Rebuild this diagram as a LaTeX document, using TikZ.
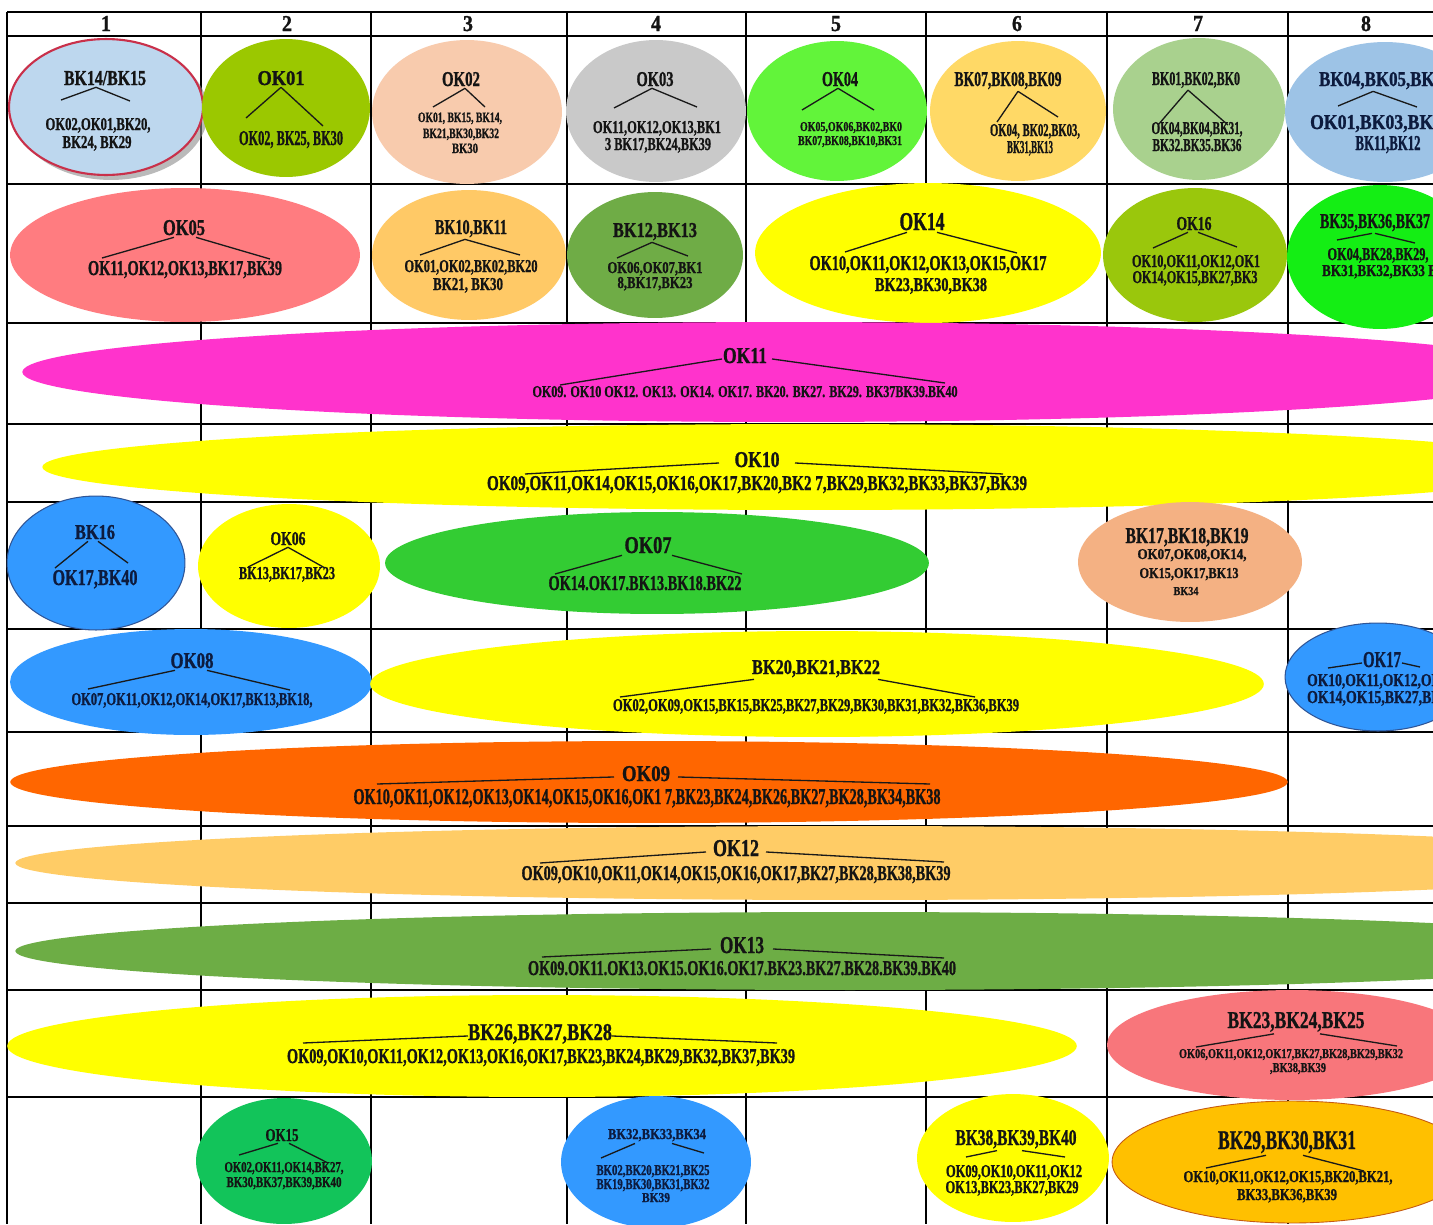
\documentclass[tikz,border=0pt]{standalone}
\usepackage{fontspec}
\setmainfont{Liberation Serif}[BoldFeatures={FakeBold=1.2}]
\usepackage{graphicx}
\usetikzlibrary{shapes.geometric,calc}
\newlength\pxl
\setlength\pxl{0.02cm}
\newcommand\fitt[3]{\resizebox{#1\pxl}{#2\pxl}{\bfseries #3}}
% #1 title node, #2 anchor, #3 dx left, #4 #5 left end, #6 dx right, #7 #8 right end
\newcommand\connx[8]{%
  \coordinate (#1-L) at (#4,#5);
  \coordinate (#1-R) at (#7,#8);
  \draw[branch] ($(#1.#2)+(#3,0)$) -- (#1-L);
  \draw[branch] ($(#1.#2)+(#6,0)$) -- (#1-R);}
\definecolor{txt}{HTML}{141414}
\definecolor{txtb}{HTML}{0D1B3E}
\definecolor{cA}{HTML}{BDD7EE}
\definecolor{cArim}{HTML}{C9304A}
\definecolor{cOK01}{HTML}{9BC800}
\definecolor{cOK02}{HTML}{F8CBAD}
\definecolor{cOK03}{HTML}{C9C9C9}
\definecolor{cOK04}{HTML}{62F43A}
\definecolor{cBK07}{HTML}{FFD966}
\definecolor{cBK01}{HTML}{A9D18E}
\definecolor{cBK04}{HTML}{9DC3E6}
\definecolor{cOK05}{HTML}{FF7C80}
\definecolor{cBK10}{HTML}{FFC966}
\definecolor{cBK12}{HTML}{6FAC46}
\definecolor{cYel}{HTML}{FFFF00}
\definecolor{cOK16}{HTML}{9AC70C}
\definecolor{cBK35}{HTML}{14EE14}
\definecolor{cOK11}{HTML}{FF33CC}
\definecolor{cBlue}{HTML}{3399FF}
\definecolor{cBlueRim}{HTML}{2F5597}
\definecolor{cOK07}{HTML}{33CC33}
\definecolor{cBK17}{HTML}{F4B183}
\definecolor{cOK09}{HTML}{FF6600}
\definecolor{cOK12}{HTML}{FFCC66}
\definecolor{cOK13}{HTML}{6DAD45}
\definecolor{cBK23}{HTML}{F8767B}
\definecolor{cOK15}{HTML}{12C45A}
\definecolor{cBK29}{HTML}{FFC000}
\definecolor{cBK29rim}{HTML}{C55A11}
\begin{document}
\begin{tikzpicture}[x=0.02cm,y=-0.02cm,
  gridline/.style={line width=0.8pt,black},
  oval/.style 2 args={ellipse,inner sep=0pt,minimum width={#1*0.04cm},minimum height={#2*0.04cm}},
  lbl/.style={inner sep=1pt,anchor=base,text=txt},
  branch/.style={line width=0.75pt,draw=black!90}]
\useasboundingbox (0,0) rectangle (1433,1224);
\clip (0,0) rectangle (1433,1224);
\fill[white] (0,0) rectangle (1433,1224);
% ---------- table ----------
\foreach \x in {7,201,371,567,746,926,1107,1288} \draw[gridline] (\x,12) -- (\x,1224);
\foreach \y in {12,36,184,323,424,502,629,732,826,903,990,1097} \draw[gridline] (7,\y) -- (1433,\y);
\node[lbl] (h1) at (106,31) {\fitt{10}{15}{1}};
\node[lbl] (h2) at (287,31) {\fitt{10}{15}{2}};
\node[lbl] (h3) at (468,31) {\fitt{10}{15}{3}};
\node[lbl] (h4) at (656,31) {\fitt{10}{15}{4}};
\node[lbl] (h5) at (836,31) {\fitt{10}{15}{5}};
\node[lbl] (h6) at (1017,31) {\fitt{10}{15}{6}};
\node[lbl] (h7) at (1198,31) {\fitt{10}{15}{7}};
\node[lbl] (h8) at (1366,31) {\fitt{10}{15}{8}};
% ---------- ellipses ----------
\node[oval={97}{68},fill=black!45,opacity=.6] (e1s) at (111,112) {};
\node[oval={97}{68},fill=cA,draw=cArim,line width=1.2pt] (e1) at (106,107) {};
\node[oval={84}{69},fill=cOK01] (e2) at (286,108) {};
\node[oval={95}{72},fill=cOK02] (e3) at (467,112) {};
\node[oval={90}{71},fill=cOK03] (e4) at (656,111) {};
\node[oval={90}{70},fill=cOK04] (e5) at (837,111) {};
\node[oval={88}{70},fill=cBK07] (e6) at (1018,111) {};
\node[oval={86}{71},fill=cBK01] (e7) at (1199,109) {};
\node[oval={100}{70},fill=cBK04] (e8) at (1385,112) {};
\node[oval={175}{67},fill=cOK05] (e9) at (185,255) {};
\node[oval={97}{65},fill=cBK10] (e10) at (469,255) {};
\node[oval={88}{63},fill=cBK12] (e11) at (655,255) {};
\node[oval={173}{70},fill=cYel] (e12) at (928,253) {};
\node[oval={92}{67},fill=cOK16] (e13) at (1195,255) {};
\node[oval={93}{72},fill=cBK35] (e14) at (1380,257) {};
\node[oval={767}{50},fill=cOK11] (e15) at (789,372) {};
\node[oval={768}{43},fill=cYel] (e16) at (810,467) {};
\node[oval={89}{67},fill=cBlue,draw=cBlueRim,line width=0.6pt] (e17) at (96,563) {};
\node[oval={91}{62},fill=cYel] (e18) at (289,566) {};
\node[oval={272}{51},fill=cOK07] (e19) at (657,563) {};
\node[oval={112}{60},fill=cBK17] (e20) at (1190,562) {};
\node[oval={181}{53},fill=cBlue] (e21) at (191,682) {};
\node[oval={447}{53},fill=cYel] (e22) at (817,684) {};
\node[oval={93}{54},fill=cBlue,draw=cBlueRim,line width=0.6pt] (e23) at (1378,677) {};
\node[oval={639}{41},fill=cOK09] (e24) at (649,782) {};
\node[oval={835}{37},fill=cOK12] (e25) at (850,863) {};
\node[oval={835}{39},fill=cOK13] (e26) at (850,951) {};
\node[oval={535}{51},fill=cYel] (e27) at (542,1046) {};
\node[oval={185}{55},fill=cBK23] (e28) at (1292,1045) {};
\node[oval={88}{63},fill=cOK15] (e29) at (284,1161) {};
\node[oval={95}{66},fill=cBlue] (e30) at (656,1162) {};
\node[oval={96}{64},fill=cYel] (e31) at (1013,1158) {};
\node[oval={180}{61},fill=cBK29,draw=cBK29rim,line width=0.5pt] (e32) at (1292,1162) {};
% ---------- row 1 ----------
\node[lbl] (t1) at (105,85) {\fitt{82}{14}{BK14/BK15}};
\node[lbl] (l1a) at (98,130) {\fitt{105}{12}{OK02,OK01,BK20,}};
\node[lbl] (l1b) at (97,148) {\fitt{69}{12}{BK24, BK29}};
\connx{t1}{south}{-9}{61}{100}{-9}{130}{101}
\node[lbl] (t2) at (281,85) {\fitt{47}{14}{OK01}};
\node[lbl] (l2) at (291,145) {\fitt{104}{14}{OK02, BK25, BK30}};
\connx{t2}{south}{0}{246}{118}{0}{323}{126}
\node[lbl] (t3) at (461,86) {\fitt{38}{14}{OK02}};
\node[lbl] (l3a) at (460,122) {\fitt{84}{9.5}{OK01, BK15, BK14,}};
\node[lbl] (l3b) at (461,138) {\fitt{76}{9.5}{BK21,BK30,BK32}};
\node[lbl] (l3c) at (465,153) {\fitt{26}{9.5}{BK30}};
\connx{t3}{south}{4}{433}{107}{4}{485}{107}
\node[lbl] (t4) at (655,86) {\fitt{37}{14}{OK03}};
\node[lbl] (l4a) at (657,133) {\fitt{128}{12}{OK11,OK12,OK13,BK1}};
\node[lbl] (l4b) at (658,150) {\fitt{106}{12}{3 BK17,BK24,BK39}};
\connx{t4}{south}{-3}{614}{108}{-3}{697}{107}
\node[lbl] (t5) at (840,86) {\fitt{36}{14}{OK04}};
\node[lbl] (l5a) at (851,131) {\fitt{102}{9}{OK05,OK06,BK02,BK0}};
\node[lbl] (l5b) at (850,145) {\fitt{104}{9}{BK07,BK08,BK10,BK31}};
\connx{t5}{south}{-2}{802}{110}{-2}{874}{110}
\node[lbl] (t6) at (1008,86) {\fitt{107}{14}{BK07,BK08,BK09}};
\node[lbl] (l6a) at (1035,136) {\fitt{90}{12}{OK04, BK02,BK03,}};
\node[lbl] (l6b) at (1030,153) {\fitt{46}{12}{BK31,BK13}};
\connx{t6}{south}{10}{997}{122}{10}{1058}{117}
\node[lbl] (t7) at (1196,85) {\fitt{88}{13}{BK01,BK02,BK0}};
\node[lbl] (l7a) at (1197,134) {\fitt{91}{12}{OK04,BK04,BK31,}};
\node[lbl] (l7b) at (1197,151) {\fitt{89}{12}{BK32.BK35.BK36}};
\connx{t7}{south}{-8}{1158}{125}{-8}{1228}{125}
\node[lbl,anchor=base west,text=txtb] (t8) at (1317,86) {\fitt{124}{14}{BK04,BK05,BK0}};
\node[lbl,anchor=base west,text=txtb] (l8a) at (1308,129) {\fitt{132}{14}{OK01,BK03,BK0}};
\node[lbl,text=txtb] (l8b) at (1388,150) {\fitt{65}{14}{BK11,BK12}};
\connx{t8}{south}{-8}{1338}{106}{-8}{1417}{107}
% ---------- row 2 ----------
\node[lbl] (t9) at (184,235) {\fitt{42}{15}{OK05}};
\node[lbl] (l9) at (185,275) {\fitt{194}{14}{OK11,OK12,OK13,BK17,BK39}};
\connx{t9}{south}{-10}{102}{258}{12}{270}{259}
\node[lbl] (t10) at (471,234) {\fitt{72}{14}{BK10,BK11}};
\node[lbl] (l10a) at (471,272) {\fitt{133}{12}{OK01,OK02,BK02,BK20}};
\node[lbl] (l10b) at (468,290) {\fitt{70}{12}{BK21, BK30}};
\connx{t10}{south}{-6}{420}{255}{-6}{520}{255}
\node[lbl] (t11) at (655,237) {\fitt{84}{14}{BK12,BK13}};
\node[lbl] (l11a) at (655,273) {\fitt{95}{11}{OK06,OK07,BK1}};
\node[lbl] (l11b) at (655,288) {\fitt{75}{11}{8,BK17,BK23}};
\connx{t11}{south}{-3}{617}{258}{-3}{688}{256}
\node[lbl] (t12) at (922,230) {\fitt{45}{17}{OK14}};
\node[lbl] (l12a) at (928,270) {\fitt{237}{14}{OK10,OK11,OK12,OK13,OK15,OK17}};
\node[lbl] (l12b) at (931,291) {\fitt{112}{13}{BK23,BK30,BK38}};
\connx{t12}{south}{-15}{845}{252}{15}{1017}{253}
\node[lbl] (t13) at (1194,230) {\fitt{35}{13}{OK16}};
\node[lbl] (l13a) at (1196,267) {\fitt{128}{12}{OK10,OK11,OK12,OK1}};
\node[lbl] (l13b) at (1195,283) {\fitt{125}{12}{OK14,OK15,BK27,BK3}};
\connx{t13}{south}{-6}{1153}{248}{4}{1237}{247}
\node[lbl] (t14) at (1375,228) {\fitt{110}{14}{BK35,BK36,BK37}};
\node[lbl] (l14a) at (1378,260) {\fitt{101}{12}{OK04,BK28,BK29,}};
\node[lbl,anchor=base west] (l14b) at (1320,276) {\fitt{125}{11}{BK31,BK32,BK33 BK}};
\connx{t14}{south}{-3}{1337}{240}{0}{1415}{243}
% ---------- rows 3-4 ----------
\node[lbl] (t15) at (745,363) {\fitt{44}{15}{OK11}};
\node[lbl] (l15) at (745,397) {\fitt{425}{11}{OK09. OK10 OK12. OK13. OK14. OK17. BK20. BK27. BK29. BK37BK39.BK40}};
\connx{t15}{mid}{-23}{560}{385}{27}{945}{383}
\node[lbl] (t16) at (757,467) {\fitt{45}{15}{OK10}};
\node[lbl] (l16) at (757,490) {\fitt{540}{14}{OK09,OK11,OK14,OK15,OK16,OK17,BK20,BK2 7,BK29,BK32,BK33,BK37,BK39}};
\connx{t16}{mid}{-38}{525}{474}{38}{1003}{474}
% ---------- row 5 ----------
\node[lbl,text=txtb] (t17) at (95,539) {\fitt{40}{14}{BK16}};
\node[lbl,text=txtb] (l17) at (95,585) {\fitt{85}{15}{OK17,BK40}};
\connx{t17}{south}{-7}{55}{568}{3}{128}{563}
\node[lbl] (t18) at (288,545) {\fitt{35}{13}{OK06}};
\node[lbl] (l18) at (287,579) {\fitt{96}{12}{BK13,BK17,BK23}};
\connx{t18}{south}{0}{248}{567}{0}{325}{568}
\node[lbl] (t19) at (648,553) {\fitt{47}{16}{OK07}};
\node[lbl] (l19) at (645,590) {\fitt{193}{14}{OK14.OK17.BK13.BK18.BK22}};
\connx{t19}{south}{-26}{555}{574}{24}{742}{574}
\node[lbl] (t20) at (1187,543) {\fitt{123}{15}{BK17,BK18,BK19}};
\node[lbl] (l20a) at (1192,559) {\fitt{109}{10}{OK07,OK08,OK14,}};
\node[lbl] (l20b) at (1189,578) {\fitt{99}{10}{OK15,OK17,BK13}};
\node[lbl] (l20c) at (1186,595) {\fitt{25}{8}{BK34}};
% ---------- row 6 ----------
\node[lbl,text=txtb] (t21) at (192,668) {\fitt{43}{15}{OK08}};
\node[lbl,text=txtb] (l21) at (192,705) {\fitt{241}{12}{OK07,OK11,OK12,OK14,OK17,BK13,BK18,}};
\connx{t21}{south}{-17}{88}{689}{15}{290}{690}
\node[lbl] (t22) at (816,674) {\fitt{128}{14}{BK20,BK21,BK22}};
\node[lbl] (l22) at (816,711) {\fitt{406}{12}{OK02,OK09,OK15,BK15,BK25,BK27,BK29,BK30,BK31,BK32,BK36,BK39}};
\connx{t22}{south}{-62}{620}{697}{62}{975}{697}
\node[lbl,text=txtb] (t23) at (1382,667) {\fitt{38}{15}{OK17}};
\node[lbl,anchor=base west,text=txtb] (l23a) at (1305,686) {\fitt{135}{12}{OK10,OK11,OK12,OK}};
\node[lbl,anchor=base west,text=txtb] (l23b) at (1305,703) {\fitt{135}{12}{OK14,OK15,BK27,BK}};
\connx{t23}{mid}{-20}{1328}{668}{20}{1420}{667}
% ---------- rows 7-9 ----------
\node[lbl] (t24) at (646,781) {\fitt{48}{15}{OK09}};
\node[lbl] (l24) at (647,804) {\fitt{587}{15}{OK10,OK11,OK12,OK13,OK14,OK15,OK16,OK1 7,BK23,BK24,BK26,BK27,BK28,BK34,BK38}};
\connx{t24}{mid}{-32}{377}{784}{32}{930}{784}
\node[lbl] (t25) at (736,856) {\fitt{46}{16}{OK12}};
\node[lbl] (l25) at (736,880) {\fitt{429}{14}{OK09,OK10,OK11,OK14,OK15,OK16,OK17,BK27,BK28,BK38,BK39}};
\connx{t25}{mid}{-30}{540}{863}{30}{944}{862}
\node[lbl] (t26) at (742,953) {\fitt{44}{16}{OK13}};
\node[lbl] (l26) at (742,975) {\fitt{428}{14}{OK09.OK11.OK13.OK15.OK16.OK17.BK23.BK27.BK28.BK39.BK40}};
\connx{t26}{mid}{-31}{542}{957}{31}{944}{958}
% ---------- row 10 ----------
\node[lbl] (t27) at (540,1040) {\fitt{144}{16}{BK26,BK27,BK28}};
\node[lbl] (l27) at (541,1063) {\fitt{508}{14}{OK09,OK10,OK11,OK12,OK13,OK16,OK17,BK23,BK24,BK29,BK32,BK37,BK39}};
\connx{t27}{mid}{-72}{303}{1043}{72}{777}{1043}
\node[lbl] (t28) at (1296,1028) {\fitt{137}{16}{BK23,BK24,BK25}};
\node[lbl] (l28a) at (1291,1058) {\fitt{224}{9}{OK06,OK11,OK12,OK17,BK27,BK28,BK29,BK32}};
\node[lbl] (l28b) at (1298,1072) {\fitt{56}{9}{,BK38,BK39}};
\connx{t28}{south}{-22}{1196}{1047}{24}{1397}{1046}
% ---------- row 11 ----------
\node[lbl] (t29) at (282,1141) {\fitt{33}{12}{OK15}};
\node[lbl] (l29a) at (284,1172) {\fitt{119}{10}{OK02,OK11,OK14,BK27,}};
\node[lbl] (l29b) at (284,1187) {\fitt{115}{10}{BK30,BK37,BK39,BK40}};
\connx{t29}{south}{-4}{239}{1155}{7}{328}{1163}
\node[lbl,text=txtb] (t30) at (657,1139) {\fitt{98}{10}{BK32,BK33,BK34}};
\node[lbl,text=txtb] (l30a) at (653,1175) {\fitt{113}{10}{BK02,BK20,BK21,BK25}};
\node[lbl,text=txtb] (l30b) at (653,1189) {\fitt{113}{10}{BK19,BK30,BK31,BK32}};
\node[lbl,text=txtb] (l30c) at (656,1202) {\fitt{28}{9}{BK39}};
\connx{t30}{south}{-22}{601}{1158}{15}{704}{1153}
\node[lbl] (t31) at (1016,1145) {\fitt{121}{15}{BK38,BK39,BK40}};
\node[lbl] (l31a) at (1014,1177) {\fitt{136}{12}{OK09,OK10,OK11,OK12}};
\node[lbl] (l31b) at (1012,1193) {\fitt{133}{12}{OK13,BK23,BK27,BK29}};
\connx{t31}{south}{-19}{966}{1157}{6}{1065}{1157}
\node[lbl] (t32) at (1287,1149) {\fitt{138}{18}{BK29,BK30,BK31}};
\node[lbl] (l32a) at (1288,1182) {\fitt{209}{11}{OK10,OK11,OK12,OK15,BK20,BK21,}};
\node[lbl] (l32b) at (1287,1200) {\fitt{100}{11}{BK33,BK36,BK39}};
\connx{t32}{south}{-21}{1206}{1168}{16}{1364}{1171}
\end{tikzpicture}
\end{document}
